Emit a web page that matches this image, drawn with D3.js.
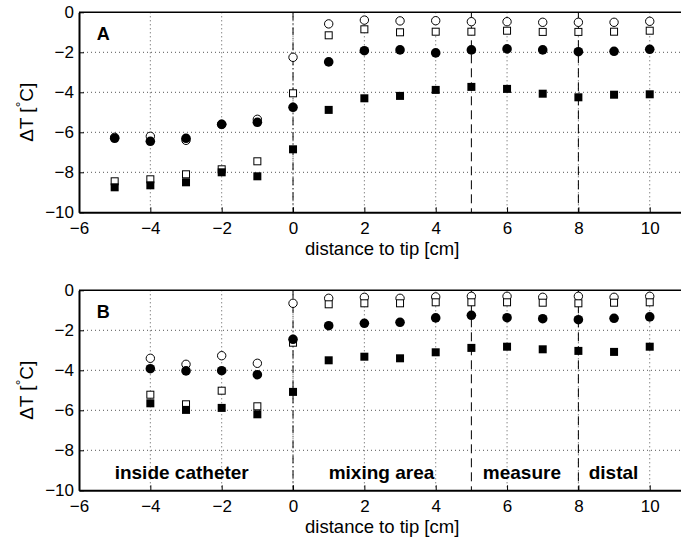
<!DOCTYPE html>
<html>
<head>
<meta charset="utf-8">
<script src="https://cdn.jsdelivr.net/npm/d3@7"></script>
<style>
  body { margin: 0; background: #fff; }
  svg { display: block; }
  text { font-family: "Liberation Sans", Arial, Helvetica, sans-serif; }
</style>
</head>
<body>
<div id="chart"></div>
<script>
/* Temperature difference along the catheter, panels A and B */

var xTicks = [-6, -4, -2, 0, 2, 4, 6, 8, 10];
var yTicks = [0, -2, -4, -6, -8, -10];

// panel A
var xA = [-5, -4, -3, -2, -1, 0, 1, 2, 3, 4, 5, 6, 7, 8, 9, 10];
var aOpenCircle  = [-6.25, -6.2, -6.4, -5.6, -5.35, -2.25, -0.58, -0.39, -0.43, -0.42, -0.47, -0.47, -0.5, -0.5, -0.5, -0.45];
var aFillCircle  = [-6.3, -6.45, -6.3, -5.6, -5.5, -4.75, -2.48, -1.92, -1.88, -2.03, -1.88, -1.83, -1.88, -1.97, -1.95, -1.85];
var aOpenSquare  = [-8.45, -8.35, -8.1, -7.85, -7.45, -4.05, -1.15, -0.85, -1.0, -0.97, -0.97, -0.92, -0.98, -0.98, -0.97, -0.92];
var aFillSquare  = [-8.75, -8.65, -8.5, -8.0, -8.2, -6.85, -4.88, -4.3, -4.18, -3.88, -3.73, -3.83, -4.07, -4.25, -4.12, -4.1];

// panel B
var xB = [-4, -3, -2, -1, 0, 1, 2, 3, 4, 5, 6, 7, 8, 9, 10];
var bOpenCircle  = [-3.4, -3.7, -3.27, -3.65, -0.65, -0.4, -0.35, -0.4, -0.33, -0.3, -0.3, -0.35, -0.3, -0.35, -0.3];
var bFillCircle  = [-3.92, -4.03, -4.02, -4.22, -2.45, -1.77, -1.65, -1.6, -1.38, -1.25, -1.37, -1.42, -1.47, -1.4, -1.33];
var bOpenSquare  = [-5.22, -5.7, -5.02, -5.8, -2.62, -0.7, -0.65, -0.65, -0.6, -0.6, -0.6, -0.62, -0.65, -0.62, -0.6];
var bFillSquare  = [-5.65, -5.98, -5.88, -6.2, -5.08, -3.5, -3.32, -3.4, -3.1, -2.88, -2.82, -2.95, -3.03, -3.08, -2.82];

// region boundaries and region names (panel B)
var dashDotAt = [0];
var dashedAt = [5, 8];
var regionNames = ["inside catheter", "mixing area", "measure", "distal"];
var regionStart = [-5.0, 1.0, 5.32, 8.29];
var regionBaseline = -9.45;

var W = 681, H = 541;
var left = 79, right = 685.4;

var svg = d3.select("#chart").append("svg")
    .attr("width", W)
    .attr("height", H);

var x = d3.scaleLinear().domain([-6, 11]).range([left, right]);

function minus(d) { return d < 0 ? "\u2212" + Math.abs(d) : d; }

function drawPanel(top, bottom, letter, xs, series, withRegions) {
    var y = d3.scaleLinear().domain([-10, 0]).range([bottom, top]);
    var g = svg.append("g");

    // dotted grid
    g.selectAll(".vgrid")
        .data(xTicks.filter(function (d) { return d > -6; }))
        .enter().append("line")
        .attr("x1", function (d) { return x(d); })
        .attr("x2", function (d) { return x(d); })
        .attr("y1", top).attr("y2", bottom)
        .attr("stroke", "#555").attr("stroke-width", 1)
        .attr("stroke-dasharray", "1,3");
    g.selectAll(".hgrid")
        .data(yTicks.filter(function (d) { return d < 0 && d > -10; }))
        .enter().append("line")
        .attr("x1", left).attr("x2", right)
        .attr("y1", function (d) { return y(d); })
        .attr("y2", function (d) { return y(d); })
        .attr("stroke", "#555").attr("stroke-width", 1)
        .attr("stroke-dasharray", "1,3");

    // boundary lines
    g.selectAll(".dashdot")
        .data(dashDotAt)
        .enter().append("line")
        .attr("x1", function (d) { return x(d); })
        .attr("x2", function (d) { return x(d); })
        .attr("y1", top).attr("y2", bottom)
        .attr("stroke", "#000").attr("stroke-width", 1)
        .attr("stroke-dasharray", "8,3,1,3");
    g.selectAll(".dashed")
        .data(dashedAt)
        .enter().append("line")
        .attr("x1", function (d) { return x(d); })
        .attr("x2", function (d) { return x(d); })
        .attr("y1", top).attr("y2", bottom)
        .attr("stroke", "#000").attr("stroke-width", 1)
        .attr("stroke-dasharray", "9,5");

    // axes
    var xAxis = d3.axisBottom(x).tickValues(xTicks).tickSizeInner(-5).tickSizeOuter(0)
        .tickPadding(10).tickFormat(minus);
    var gx = g.append("g").attr("transform", "translate(0," + bottom + ")").call(xAxis);
    var yAxis = d3.axisLeft(y).tickValues(yTicks).tickSizeInner(-5).tickSizeOuter(0)
        .tickPadding(5).tickFormat(minus);
    var gy = g.append("g").attr("transform", "translate(" + left + ",0)").call(yAxis);
    [gx, gy].forEach(function (a) {
        a.select(".domain").attr("stroke", "#000").attr("stroke-width", 2);
        a.selectAll(".tick line").attr("stroke", "#000").attr("stroke-width", 1);
        a.selectAll(".tick text").attr("fill", "#000").attr("font-size", 17)
            .attr("font-family", "Liberation Sans, Arial, sans-serif");
    });
    // top border
    g.append("line")
        .attr("x1", left).attr("x2", right)
        .attr("y1", top).attr("y2", top)
        .attr("stroke", "#000").attr("stroke-width", 1.5);

    // axis labels
    g.append("text")
        .attr("x", (left + right) / 2).attr("y", bottom + 43)
        .attr("text-anchor", "middle").attr("font-size", 18.5)
        .text("distance to tip [cm]");
    var yl = g.append("text")
        .attr("transform", "translate(33," + ((top + bottom) / 2) + ") rotate(-90)")
        .attr("text-anchor", "middle").attr("font-size", 19);
    yl.append("tspan").text("\u0394T [");
    yl.append("tspan").attr("dy", -7).attr("font-size", 14).text("\u00b0");
    yl.append("tspan").attr("dy", 7).text("C]");

    g.append("text")
        .attr("x", x(-5.5)).attr("y", y(-1.37))
        .attr("font-size", 18).attr("font-weight", "bold")
        .text(letter);

    if (withRegions) {
        g.selectAll(".region")
            .data(regionNames)
            .enter().append("text")
            .attr("x", function (d, i) { return x(regionStart[i]); })
            .attr("y", y(regionBaseline))
            .attr("font-size", 19).attr("font-weight", "bold")
            .text(function (d) { return d; });
    }

    // markers
    function pts(vals) {
        return xs.map(function (d, i) { return { x: d, y: vals[i] }; });
    }
    g.selectAll(".oc").data(pts(series.openCircle)).enter().append("circle")
        .attr("cx", function (d) { return x(d.x); })
        .attr("cy", function (d) { return y(d.y); })
        .attr("r", 4.2).attr("fill", "#fff").attr("stroke", "#000").attr("stroke-width", 1);
    g.selectAll(".os").data(pts(series.openSquare)).enter().append("rect")
        .attr("x", function (d) { return x(d.x) - 3.5; })
        .attr("y", function (d) { return y(d.y) - 3.5; })
        .attr("width", 7).attr("height", 7)
        .attr("fill", "#fff").attr("stroke", "#000").attr("stroke-width", 1);
    g.selectAll(".fc").data(pts(series.fillCircle)).enter().append("circle")
        .attr("cx", function (d) { return x(d.x); })
        .attr("cy", function (d) { return y(d.y); })
        .attr("r", 4.8).attr("fill", "#000");
    g.selectAll(".fs").data(pts(series.fillSquare)).enter().append("rect")
        .attr("x", function (d) { return x(d.x) - 4; })
        .attr("y", function (d) { return y(d.y) - 4; })
        .attr("width", 8).attr("height", 8)
        .attr("fill", "#000");
}

drawPanel(12.3, 212.3, "A", xA,
    { openCircle: aOpenCircle, fillCircle: aFillCircle, openSquare: aOpenSquare, fillSquare: aFillSquare },
    false);
drawPanel(290.3, 490.3, "B", xB,
    { openCircle: bOpenCircle, fillCircle: bFillCircle, openSquare: bOpenSquare, fillSquare: bFillSquare },
    true);
</script>
</body>
</html>
